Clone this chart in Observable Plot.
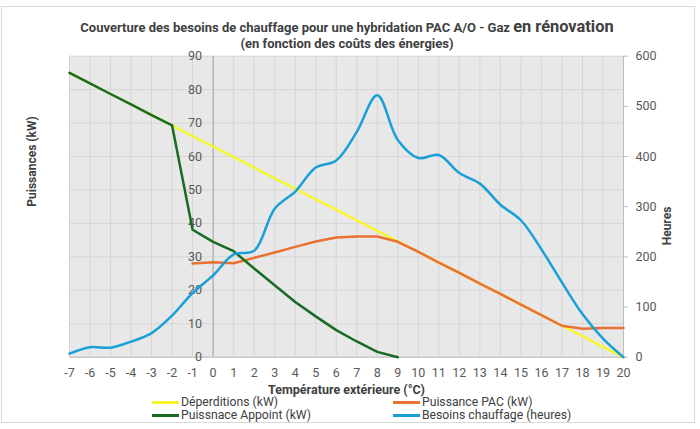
<!DOCTYPE html>
<html><head><meta charset="utf-8">
<script src="https://cdn.jsdelivr.net/npm/d3@7"></script>
<script src="https://cdn.jsdelivr.net/npm/@observablehq/plot@0.6"></script>
<style>
body{margin:0;background:#fff;font-family:Roboto,"Liberation Sans",sans-serif;}
#wrap{position:relative;width:700px;height:429px;overflow:hidden;background:#fff;}
#border{position:absolute;left:1px;top:6px;width:694px;height:417px;border:1px solid #d9d9d9;box-sizing:border-box;}
.t{position:absolute;left:0;width:694px;text-align:center;font-weight:bold;color:#404040;white-space:nowrap;}
#chart{position:absolute;left:0;top:50px;}
.lg{position:absolute;font-size:12.2px;color:#404040;line-height:12px;height:12px;white-space:nowrap;}
.sw{position:absolute;height:3px;width:27px;}
</style></head>
<body>
<div id="wrap">
  <div id="border"></div>
  <div class="t" style="top:17px;font-size:13px;line-height:20px;">Couverture des besoins de chauffage pour une hybridation PAC A/O - Gaz <span style="font-size:16.4px">en rénovation</span></div>
  <div class="t" style="top:35px;font-size:13px;line-height:18px;">(en fonction des coûts des énergies)</div>
  <div id="chart"></div>
  <div id="legend"></div>
</div>
<script>
const temps = [-7,-6,-5,-4,-3,-2,-1,0,1,2,3,4,5,6,7,8,9,10,11,12,13,14,15,16,17,18,19,20];
const deperditions = [85,81.9,78.7,75.6,72.4,69.3,66.1,63.0,59.8,56.7,53.5,50.4,47.2,44.1,40.9,37.8,34.6,31.5,28.3,25.2,22.0,18.9,15.7,12.6,9.4,6.3,3.1,0];
const puissancePAC = [null,null,null,null,null,null,28.0,28.4,28.1,29.7,31.3,33.0,34.6,35.8,36.1,36.1,34.5,31.5,28.3,25.2,22.0,18.9,15.7,12.6,9.4,8.5,8.7,8.7];
const puissanceAppoint = [85,81.9,78.7,75.6,72.4,69.3,38.1,34.5,31.7,26.5,21.5,16.5,12.2,8.1,4.7,1.6,0,null,null,null,null,null,null,null,null,null,null,null];
const besoinsHeures = [7,20,19,31,48,83,128,163,205,212,296,330,378,392,449,522,433,397,403,367,346,304,273,215,149,86,37,0];
const yTicks = [0,10,20,30,40,50,60,70,80,90];
const hourTicks = [0,100,200,300,400,500,600];
const seriesNames = ["Déperditions (kW)","Puissance PAC (kW)","Puissnace Appoint (kW)","Besoins chauffage (heures)"];
const colors = ["#f7f72e","#e97132","#196b24","#1aa0d8"];

const kwPerHour = 90/600;
const rows = temps.map((t,i)=>({t, dep:deperditions[i], pac:puissancePAC[i], app:puissanceAppoint[i], h:besoinsHeures[i]}));
const font = "Roboto, 'Liberation Sans', sans-serif";

const chart = Plot.plot({
  width:700, height:345,
  marginLeft:69, marginRight:77, marginTop:5.7, marginBottom:38.3,
  x:{domain:[-7,20]},
  y:{domain:[0,90]},
  style:{fontFamily:font, fontSize:"12px", color:"#595959", background:"transparent", overflow:"visible"},
  marks:[
    Plot.frame({fill:"#e8e8e8", stroke:null}),
    Plot.gridX(temps, {stroke:"#d6d6d6", strokeOpacity:1}),
    Plot.gridY(yTicks, {stroke:"#d6d6d6", strokeOpacity:1}),
    Plot.ruleX([0], {stroke:"#a6a6a6"}),
    Plot.ruleY([0], {stroke:"#bfbfbf"}),
    Plot.ruleX([20], {stroke:"#bfbfbf"}),
    Plot.axisX(temps, {tickSize:0, tickPadding:11, tickFormat:d=>String(d), fill:"#595959", fontSize:12.5, label:null}),
    Plot.axisY(hourTicks.map(h=>h*kwPerHour), {anchor:"right", tickSize:4, tickPadding:8, stroke:"#bfbfbf", fill:"#595959", fontSize:12.5, tickFormat:d=>String(Math.round(d/kwPerHour)), label:null}),
    Plot.text(yTicks, {x:()=>0, y:d=>d, text:d=>String(d), textAnchor:"end", dx:-11, fill:"#595959", fontSize:12.5}),
    Plot.text(["Puissances (kW)"], {frameAnchor:"left", dx:-37, rotate:-90, fontWeight:"bold", fill:"#404040", fontSize:12}),
    Plot.text(["Heures"], {frameAnchor:"right", dx:44, rotate:-90, fontWeight:"bold", fill:"#404040", fontSize:12}),
    Plot.text(["Température extérieure (°C)"], {frameAnchor:"bottom", dy:37, fontWeight:"bold", fill:"#404040", fontSize:12.5}),
    Plot.line(rows, {x:"t", y:"dep", stroke:colors[0], strokeWidth:2.5}),
    Plot.line(rows, {x:"t", y:"pac", stroke:colors[1], strokeWidth:2.5}),
    Plot.line(rows, {x:"t", y:"app", stroke:colors[2], strokeWidth:2.5}),
    Plot.line(rows, {x:"t", y:d=>d.h*kwPerHour, stroke:colors[3], strokeWidth:2.5, curve:"catmull-rom"})
  ]
});
document.getElementById("chart").append(chart);

const legendPos = [[152,402],[393,402],[152,415],[393,415]];
const lg = document.getElementById("legend");
seriesNames.forEach((name,i)=>{
  const [x,y] = legendPos[i];
  const sw = document.createElement("div");
  sw.className="sw"; sw.style.left=x+"px"; sw.style.top=(y-1.5)+"px"; sw.style.background=colors[i];
  const tx = document.createElement("div");
  tx.className="lg"; tx.style.left=(x+29)+"px"; tx.style.top=(y-6)+"px"; tx.textContent=name;
  lg.append(sw, tx);
});
</script>
</body></html>
